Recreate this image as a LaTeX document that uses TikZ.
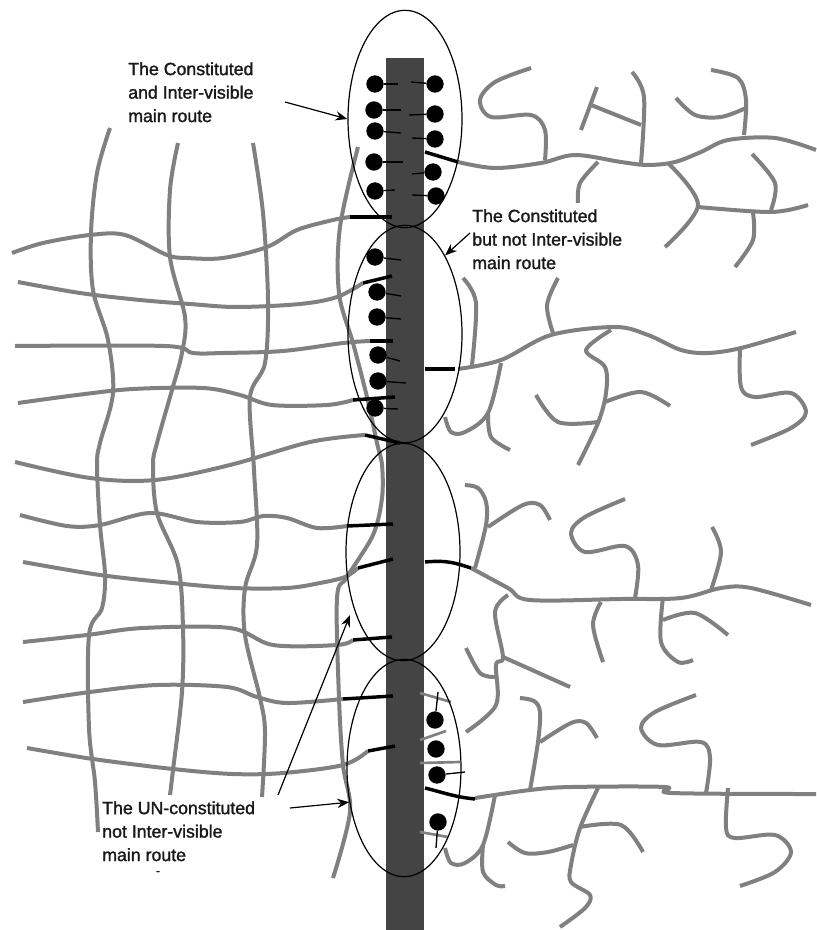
\documentclass[tikz,border=0pt]{standalone}
\usepackage{fontspec}
\setmainfont{Liberation Sans}
\newfontfamily\notefont[FakeBold=1.5]{Liberation Sans}
\usetikzlibrary{arrows.meta, shapes.geometric}
\definecolor{cbar}{HTML}{444444}
\definecolor{cgrey}{HTML}{808080}
\tikzset{
  road/.style={draw=cgrey, line width=3pt, line join=round},
  link/.style={draw=black, line width=2.6pt},
  tick/.style={draw=black, line width=1pt},
  stub/.style={draw=cgrey, line width=2pt},
  dot/.style={circle, fill=black, minimum size=13pt, inner sep=0pt},
  zone/.style={ellipse, draw=black, line width=0.9pt, minimum width=85.5pt, minimum height=163pt, inner sep=0pt},
  arrow/.style={-{Stealth[length=9pt, width=7pt]}, draw=black, line width=0.9pt},
  note/.style={font=\fontsize{13.3}{17.6}\selectfont\notefont, text=black!90, align=left, anchor=north west, inner sep=0pt},
}
\newcommand{\roads}[1]{\foreach \pts in {#1} {\edef\next{\noexpand\draw[road] plot[smooth, tension=0.55] coordinates {\pts};}\next}}

\begin{document}
\begin{tikzpicture}[x=0.75pt, y=-0.75pt]
  \useasboundingbox (0,0) rectangle (816,930);
  % main road
  \fill[cbar] (386,58) rectangle (424,930);
  % left grid, across
  \roads{
    {(12,253) (43,243) (90,235) (125,235) (167,255) (187,258) (223,258) (267,247) (297,230) (333,220) (350,217)},
    {(18,282) (80,293) (140,300) (190,304) (237,307) (300,304) (337,297) (363,283)},
    {(15,346) (165,346) (193,353) (223,353) (283,351) (343,343) (370,341)},
    {(18,403) (77,395) (133,389) (203,388) (240,395) (272,405) (327,405) (353,400)},
    {(15,462) (90,478) (155,480) (230,465) (310,442) (365,435)},
    {(20,515) (67,526) (100,525) (150,513) (197,522) (240,522) (263,516) (287,518) (317,528) (347,526)},
    {(23,562) (100,575) (173,583) (233,588) (287,588) (320,583) (345,577) (358,568)},
    {(23,642) (87,635) (143,628) (230,628) (273,645) (337,645) (353,640)},
    {(23,702) (90,692) (157,685) (227,687) (257,697) (287,703) (343,699)},
    {(27,748) (93,759) (173,769) (233,774) (283,773) (343,765) (368,751)}}
  % left grid, along
  \roads{
    {(110,128) (97,173) (91,233) (93,290) (108,340) (113,393) (100,443) (97,465) (100,525) (105,575) (102,608) (89,635) (89,728) (95,782) (98,832)},
    {(178,143) (170,190) (170,257) (185,317) (182,353) (172,390) (157,443) (153,465) (157,513) (178,565) (183,628) (182,692) (173,770) (170,795)},
    {(253,143) (263,213) (268,300) (265,363) (250,397) (254,470) (257,545) (245,588) (245,635) (260,698) (265,732) (262,797)},
    {(358,147) (340,227) (339,293) (353,343) (367,397) (377,443) (382,465) (382,498) (373,535) (347,577) (337,598) (339,698) (343,765) (350,812) (333,878)}}
  % right side, top
  \roads{
    {(458,162) (495,168) (541,163) (575,155) (621,162) (648,165) (675,162) (701,152) (728,140) (775,138) (816,150)},
    {(531,68) (495,82) (480,100) (491,117) (531,115) (545,130) (545,160)},
    {(632,72) (644,97) (641,163)},
    {(597,87) (581,130)},
    {(591,105) (641,125)},
    {(711,70) (738,78) (746,100) (744,135)},
    {(676,98) (695,115) (721,117) (746,108)},
    {(598,162) (580,183) (578,203)},
    {(668,163) (698,205) (665,247)},
    {(698,207) (771,212) (808,205)},
    {(752,154) (775,183) (771,210)},
    {(753,213) (753,240) (735,267)}}
  % right side, second
  \roads{
    {(458,369) (501,360) (551,335) (615,327) (648,335) (681,350) (708,353) (741,348) (796,332)},
    {(463,278) (476,303) (472,365)},
    {(558,278) (547,305) (553,333)},
    {(611,330) (586,350) (605,367) (606,393) (598,423) (578,465)},
    {(536,395) (558,422) (598,422)},
    {(605,402) (641,392) (670,406)},
    {(740,348) (741,387) (755,397) (791,393) (806,412) (791,428) (751,445)},
    {(501,363) (488,413) (465,432) (451,432) (445,417)},
    {(488,413) (491,437) (510,450)}}
  % right side, third
  \roads{
    {(471,568) (508,588) (530,600) (621,599) (681,598) (721,588) (751,588) (811,605)},
    {(475,568) (486,525) (486,502) (478,488) (465,485)},
    {(488,527) (523,505) (540,505) (550,520)},
    {(625,499) (585,517) (571,533) (585,552) (625,546) (638,565) (635,598)},
    {(712,527) (721,552) (711,590)},
    {(601,602) (593,625) (603,662)},
    {(663,597) (661,642) (678,662) (693,660)},
    {(663,620) (695,613) (728,635)},
    {(508,595) (495,612) (503,657) (496,665) (496,705) (466,732)},
    {(503,657) (570,687)},
    {(466,648) (480,673) (495,677)}}
  % right side, bottom
  \roads{
    {(475,798) (530,790) (571,787) (665,787) (672,793) (816,794)},
    {(530,790) (538,742) (540,712) (534,701) (520,698)},
    {(540,742) (571,723) (586,723) (597,738)},
    {(696,695) (655,712) (641,728) (658,745) (701,742) (710,758) (706,793)},
    {(728,788) (726,828) (735,838) (775,835) (791,852) (775,872) (740,886)},
    {(598,788) (580,828) (571,865) (571,882) (590,895) (585,908) (560,927)},
    {(580,827) (621,825) (643,852)},
    {(508,842) (525,853) (548,852) (573,845)},
    {(495,795) (483,845) (465,863) (451,863) (445,848)},
    {(483,845) (483,872) (496,885) (505,886)}}
  % thick links into the road
  \foreach \ax/\ay/\bx/\by in {350/217/392/217, 363/283/392/276, 370/341/393/341, 353/400/395/397, 365/435/400/443,
    347/526/393/524, 358/568/393/559, 353/640/392/637, 343/699/393/696, 368/751/395/746,
    425/152/458/162, 425/369/455/369}
    \draw[link] (\ax,\ay) -- (\bx,\by);
  \draw[link] (425,562) .. controls (448,560) and (455,563) .. (471,568);
  \draw[link] (425,788) .. controls (445,793) and (455,797) .. (475,799);
  % small grey stubs
  \foreach \ax/\ay/\bx/\by in {420/693/451/702, 420/740/446/731, 420/763/460/762, 420/832/448/837}
    \draw[stub] (\ax,\ay) -- (\bx,\by);
  % dots
  \foreach \x/\y [count=\i] in {375/84, 374/110, 375/131, 374/162, 375/191, 435/84, 435/114, 435/139, 433/172, 436/196,
    375/257, 377/292, 377/317, 378/355, 378/381, 375/408, 435/720, 436/749, 437/775, 438/822}
    \node[dot] (d\i) at (\x,\y) {};
  % thin ticks from the dots
  \foreach \i/\bx/\by in {1/398/84, 2/401/110, 3/401/133, 4/403/162, 5/395/190, 6/411/82, 7/409/115, 8/412/138, 9/412/174, 10/412/195,
    11/401/260, 12/401/296, 13/401/319, 14/400/361, 15/406/383, 16/398/409, 17/438/692, 19/465/772, 20/436/848}
    \draw[tick] (d\i) -- (\bx,\by);
  % zones
  \node[zone] (e1) at (405,119) {};
  \node[zone] (e2) at (405,334) {};
  \node[zone] (e3) at (403,552) {};
  \node[zone] (e4) at (404,768) {};
  % labels
  \node[note] (l1) at (128,62) {The Constituted\\and Inter-visible\\main route};
  \node[note] (l2) at (472,209) {The Constituted\\but not Inter-visible\\main route};
  \node[note] (l3) at (102,801) {The UN-constituted\\not Inter-visible\\main route};
  \node[note, anchor=center, font=\fontsize{9}{9}\selectfont\notefont] (l4) at (158,873) {-};
  \coordinate (s1) at (285,102);
  \coordinate (s2) at (470,233);
  \coordinate (s3) at (278,795);
  \coordinate (t3) at (350,615);
  \coordinate (s4) at (290,808);
  \draw[arrow] (s1) -- (e1.180);
  \draw[arrow] (s2) -- (e2.63);
  \draw[arrow] (s3) -- (t3);
  \draw[arrow] (s4) -- (e4.212);
\end{tikzpicture}
\end{document}
